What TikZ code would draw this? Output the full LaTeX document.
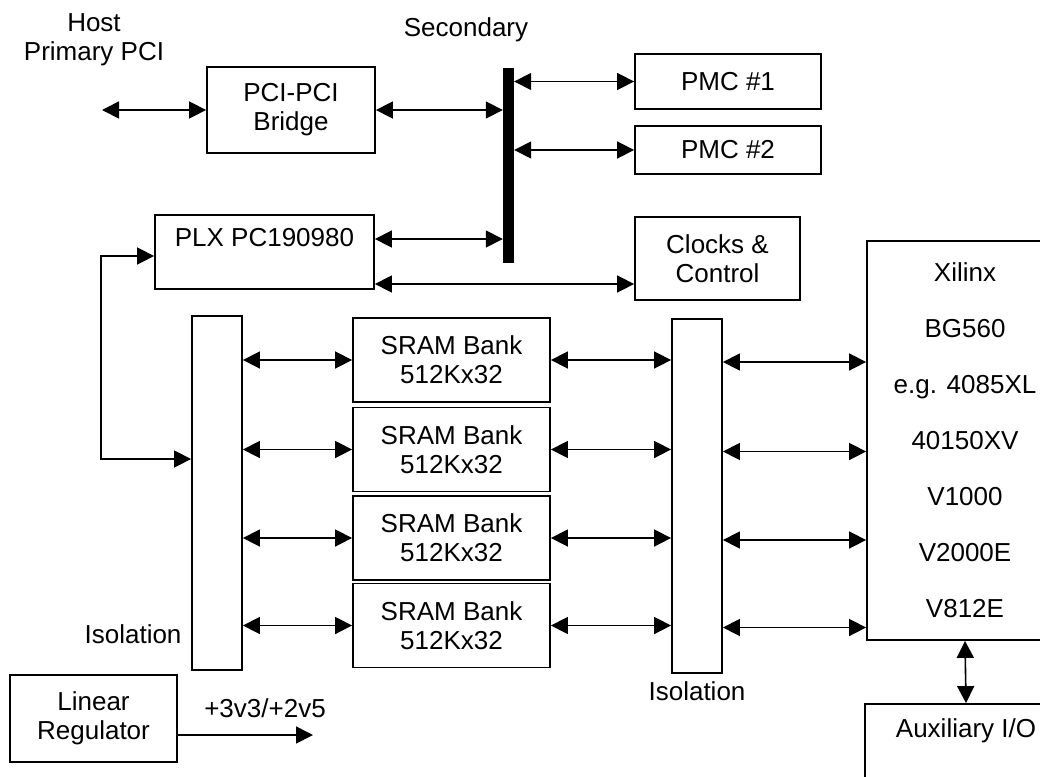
\documentclass[tikz,border=0pt]{standalone}
\usepackage{fontspec}
\setmainfont{Liberation Sans}
\usetikzlibrary{positioning,calc,arrows.meta}

\begin{document}
\begin{tikzpicture}[x=1pt,y=-1pt,
    font=\fontsize{26}{29}\selectfont,
    box/.style={draw,line width=1.8pt,inner sep=0pt,align=center},
    link/.style={line width=1.6pt,{Triangle[length=17pt,width=17pt]}-{Triangle[length=17pt,width=17pt]}},
    feed/.style={line width=1.6pt,-{Triangle[length=17pt,width=17pt]}}]

\useasboundingbox (0,0) rectangle (1040,776);
\clip (0,0) rectangle (1040,776);

\node[align=center] (host) at (94,40) {Host\\Primary PCI};
\node (sec) at (466,30) {Secondary};
\coordinate (hostend) at (102,108);

\node[box,minimum width=168pt,minimum height=86pt] (bridge) at (291,110) {PCI-PCI\\Bridge};
\node[box,minimum width=219pt,minimum height=74pt] (plx) at (264.5,252) {PLX PC190980\\\mbox{}};
\node[fill,inner sep=0pt,minimum width=11pt,minimum height=195pt] (bus) at (508.5,165.5) {};

\node[box,minimum width=186pt,minimum height=55pt] (pmc1) at (728,81.5) {PMC \#1};
\node[box,minimum width=186pt,minimum height=48pt] (pmc2) at (728,150) {PMC \#2};
\node[box,minimum width=165pt,minimum height=83pt] (clk) at (717.5,258.5) {Clocks \&\\Control};

\node[box,minimum width=50pt,minimum height=354pt] (iso1) at (217,493) {};
\node[anchor=east] (iso1lab) at (185,634) {Isolation};
\node[box,minimum width=50pt,minimum height=354pt] (iso2) at (697,496) {};
\node (iso2lab) at (697,691) {Isolation};

\foreach \i/\y in {1/360,2/449.5,3/538,4/625.5}
  \node[box,minimum width=197pt,minimum height=84pt] (sram\i) at (451.5,\y) {SRAM Bank\\512Kx32};

\node[box,minimum width=196pt,minimum height=399pt,font=\fontsize{26}{56}\selectfont] (xil) at (965,440.5)
  {Xilinx\\BG560\\e.g. 4085XL\\40150XV\\V1000\\V2000E\\V812E};
\node[box,minimum width=202pt,minimum height=110pt,
  label={[anchor=north,yshift=-12pt]north:Auxiliary I/O}] (aux) at (966,759) {};

\node[box,minimum width=167pt,minimum height=87pt] (lin) at (93.5,718.5) {Linear\\Regulator};
\node (vlab) at (265,708) {+3v3/+2v5};
\coordinate (vout) at (313,735);

\draw[link] (bridge.west -| hostend) -- (bridge.west);
\draw[link] (bridge.east) -- (bridge.east -| bus.west);
\draw[link] (bus.east |- pmc1) -- (pmc1.west);
\draw[link] (bus.east |- pmc2) -- (pmc2.west);
\draw[link] ([yshift=13pt]plx.east) -- ([yshift=13pt]plx.east -| bus.west);
\draw[link] ([yshift=-32pt]plx.east) -- ([yshift=-32pt]plx.east -| clk.west);

\coordinate (loop) at (101,459);
\draw[link] ([yshift=-4pt]plx.west) -| (loop) -- (loop -| iso1.west);

\foreach \i in {1,...,4} {
  \draw[link] (iso1.east |- sram\i) -- (sram\i.west);
  \draw[link] (sram\i.east) -- (sram\i.east -| iso2.west);
  \draw[link] ([yshift=-2pt]iso2.east |- sram\i) -- ([yshift=-2pt]xil.west |- sram\i);
}

\draw[link] (xil.south) -- (aux.north);
\draw[feed] (lin.east |- vout) -- (vout);

\end{tikzpicture}
\end{document}
